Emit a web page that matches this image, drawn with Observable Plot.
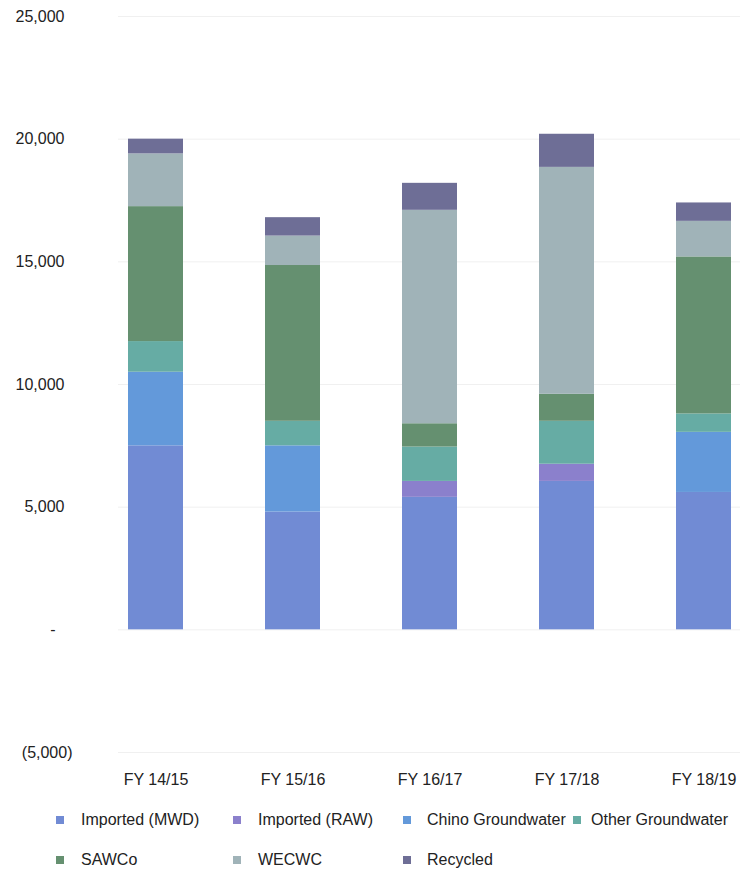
<!DOCTYPE html>
<html>
<head>
<meta charset="utf-8">
<script src="https://cdn.jsdelivr.net/npm/d3@7"></script>
<script src="https://cdn.jsdelivr.net/npm/@observablehq/plot@0.6"></script>
<style>
  html, body { margin: 0; padding: 0; background: #fff; }
  #chart { width: 745px; font-family: "Liberation Sans", Arial, sans-serif; }
  #legend { position: relative; width: 745px; height: 79px; font-family: "Liberation Sans", Arial, sans-serif; font-size: 16px; color: #222; }
  .item { position: absolute; display: flex; align-items: center; white-space: nowrap; }
  .sw { width: 8px; height: 8px; display: inline-block; }
</style>
</head>
<body>
<div id="chart"></div>
<div id="legend"></div>
<script>
// ---- data ----
const years = ["FY 14/15", "FY 15/16", "FY 16/17", "FY 17/18", "FY 18/19"];
const series = ["Imported (MWD)", "Imported (RAW)", "Chino Groundwater", "Other Groundwater", "SAWCo", "WECWC", "Recycled"];
const importedMWD   = [7500, 4800, 5400, 6050, 5600];
const importedRAW   = [0, 0, 650, 700, 0];
const chinoGW       = [3000, 2700, 0, 0, 2450];
const otherGW       = [1250, 1000, 1400, 1750, 750];
const sawco         = [5500, 6350, 950, 1100, 6400];
const wecwc         = [2150, 1200, 8700, 9250, 1450];
const recycled      = [600, 750, 1100, 1350, 750];
const yTicks = [-5000, 0, 5000, 10000, 15000, 20000, 25000];
const colors = ["#718bd4", "#8b80cc", "#6399da", "#66aca4", "#659070", "#a0b3b8", "#6e6e96"];

const values = [importedMWD, importedRAW, chinoGW, otherGW, sawco, wecwc, recycled];
const table = [];
series.forEach((s, i) => years.forEach((y, j) => table.push({year: y, series: s, value: values[i][j]})));

const fmt = d3.format(",");
const pos = yTicks.filter(v => v > 0);

const chart = Plot.plot({
  width: 745,
  height: 790,
  marginTop: 16,
  marginBottom: 38,
  marginLeft: 118,
  marginRight: 5,
  style: {fontFamily: "Liberation Sans, Arial, sans-serif", fontSize: "16px", color: "#222", background: "#fff"},
  x: {domain: years, paddingInner: 0.6, paddingOuter: 0.058, label: null},
  y: {domain: [-5000, 25000], label: null},
  color: {domain: series, range: colors},
  marks: [
    Plot.ruleY(yTicks, {stroke: "#f0f0f0", strokeWidth: 1}),
    Plot.barY(table, {x: "year", y: "value", fill: "series"}),
    Plot.axisY(pos, {tickSize: 0, tickPadding: 54, tickFormat: d => fmt(d), label: null, fill: "#222"}),
    Plot.axisY([0], {tickSize: 0, tickPadding: 63, tickFormat: () => "-", label: null, fill: "#222"}),
    Plot.axisY([-5000], {tickSize: 0, tickPadding: 46, tickFormat: d => "(" + fmt(-d) + ")", label: null, fill: "#222"}),
    Plot.axisX({tickSize: 0, tickPadding: 21, label: null, fill: "#222"})
  ]
});
document.getElementById("chart").appendChild(chart);

// ---- legend (Excel-style grid) ----
const colSw = [56, 233, 403, 573];
const colGap = [17, 17, 16, 10];
const rowY = [30, 70];
const legend = document.getElementById("legend");
series.forEach((s, i) => {
  const c = i % 4, r = Math.floor(i / 4);
  const it = document.createElement("div");
  it.className = "item";
  it.style.left = colSw[c] + "px";
  it.style.top = (rowY[r] - 10) + "px";
  it.style.height = "20px";
  const sw = document.createElement("span");
  sw.className = "sw";
  sw.style.background = colors[i];
  sw.style.marginRight = colGap[c] + "px";
  const tx = document.createElement("span");
  tx.textContent = s;
  it.appendChild(sw);
  it.appendChild(tx);
  legend.appendChild(it);
});
</script>
</body>
</html>
